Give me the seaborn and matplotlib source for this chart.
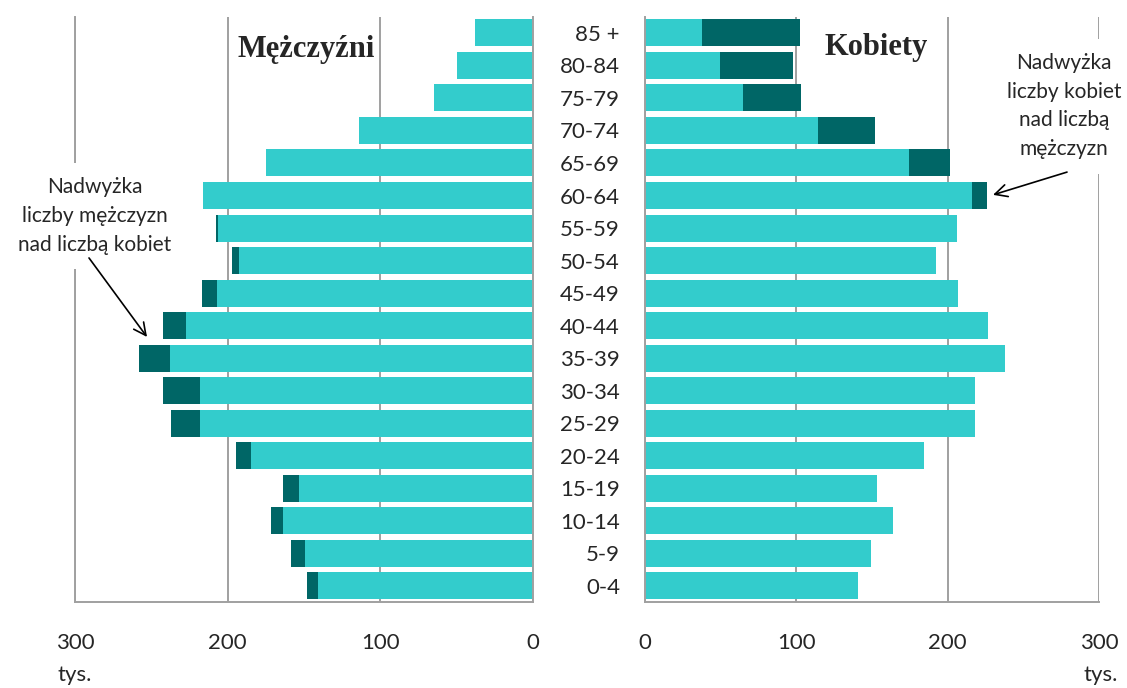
import numpy as np
import pandas as pd
import seaborn as sns
import matplotlib
matplotlib.use('Agg')
from matplotlib import pyplot as plt

# age groups, oldest at the top
ages = ['85 +', '80-84', '75-79', '70-74', '65-69', '60-64', '55-59', '50-54', '45-49',
        '40-44', '35-39', '30-34', '25-29', '20-24', '15-19', '10-14', '5-9', '0-4']
# population in thousands
men = [38, 49.5, 64.6, 114.2, 174.6, 216.3, 207.5, 197, 216.7,
       242.3, 257.8, 242.6, 236.8, 194.4, 163.5, 171.6, 158.2, 147.7]
women = [102.4, 97.6, 103.3, 152, 201.4, 226, 206, 192.6, 206.7,
         227, 237.9, 217.9, 218, 184.7, 153.4, 163.7, 149.4, 141]
x_ticks = [0, 100, 200, 300]

light = '#33CCCC'
dark = '#006666'
grid_col = '#A0A0A0'

df = pd.DataFrame({'age': ages, 'men': men, 'women': women})
df['common'] = np.minimum(df['men'], df['women'])

sns.set_style('white')
plt.rcParams['font.family'] = ['Lato', 'DejaVu Sans']

fig = plt.figure(figsize=(11.27, 6.88), dpi=100)
ax_m = fig.add_axes([0.0665, 0.125, 0.4064, 0.8508])
ax_k = fig.add_axes([0.5723, 0.125, 0.4028, 0.8508])

for ax, col in [(ax_m, 'men'), (ax_k, 'women')]:
    # total in dark, common part (min of both sexes) in light on top
    sns.barplot(data=df, x=col, y='age', color=dark, saturation=1, width=0.83,
                errorbar=None, linewidth=0, orient='h', ax=ax)
    sns.barplot(data=df, x='common', y='age', color=light, saturation=1, width=0.83,
                errorbar=None, linewidth=0, orient='h', ax=ax)
    ax.set_ylim(len(ages) - 0.5, -0.5)
    ax.set_xticks(x_ticks)
    ax.set_xlabel('')
    ax.set_ylabel('')
    ax.grid(axis='x', color=grid_col, lw=1.4)
    ax.grid(axis='y', visible=False)
    ax.set_axisbelow(True)
    ax.tick_params(axis='x', direction='out', length=8, width=1.4, color=grid_col,
                   labelsize=16, pad=14)
    ax.spines['top'].set_visible(False)
    for s in ['left', 'right', 'bottom']:
        ax.spines[s].set_color(grid_col)
        ax.spines[s].set_linewidth(1.4)

ax_m.set_xlim(300, 0)
ax_k.set_xlim(0, 300)

ax_m.set_yticks([])
ax_k.spines['right'].set_visible(False)
ax_k.set_yticks(range(len(ages)))
ax_k.set_yticklabels(ages)
ax_k.set_yticks(np.arange(-0.5, len(ages), 1), minor=True)
ax_k.tick_params(axis='y', which='major', length=0, pad=18, labelsize=16)
ax_k.tick_params(axis='y', which='minor', direction='out', length=7, width=1.4, color=grid_col)

# titles
ax_m.text(148.7, 0.52, 'Mężczyźni', family='Liberation Serif', weight='bold',
          fontsize=22, ha='center', va='center')
ax_k.text(152.7, 0.46, 'Kobiety', family='Liberation Serif', weight='bold',
          fontsize=22, ha='center', va='center')

# annotations
box = dict(fc='white', ec='none', boxstyle='square,pad=0.7')
arrow = dict(arrowstyle='->', color='black', lw=1.2, mutation_scale=22, shrinkA=0, shrinkB=0)
ax_m.text(287, 5.63, 'Nadwyżka\nliczby mężczyzn\nnad liczbą kobiet', ha='center', va='center',
          fontsize=15, linespacing=1.54, bbox=box, zorder=4)
ax_m.annotate('', xy=(252.8, 9.35), xytext=(290.8, 6.92), arrowprops=arrow, zorder=5)
ax_k.text(277, 2.25, 'Nadwyżka\nliczby kobiet\nnad liczbą\nmężczyzn', ha='center', va='center',
          fontsize=15, linespacing=1.54, bbox=box, zorder=4)
ax_k.annotate('', xy=(230, 4.98), xytext=(278.9, 4.28), arrowprops=arrow, zorder=5)

# unit labels
ax_m.text(311.7, -0.124, 'tys.', transform=ax_m.get_xaxis_transform(),
          ha='left', va='center', fontsize=16)
ax_k.text(312.6, -0.124, 'tys.', transform=ax_k.get_xaxis_transform(),
          ha='right', va='center', fontsize=16)

fig.savefig('out.png', dpi=100)
